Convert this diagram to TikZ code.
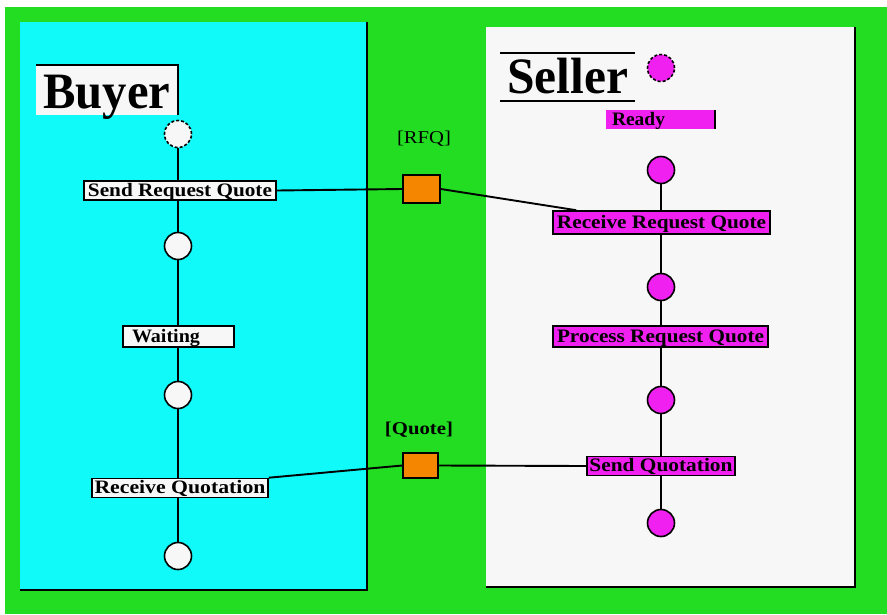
\documentclass[tikz,border=0pt]{standalone}
\usepackage{fontspec}
\setmainfont{Liberation Serif}
\usepackage{graphicx}
\usetikzlibrary{calc,backgrounds}

\definecolor{pagegreen}{RGB}{34,221,34}
\definecolor{buyercyan}{RGB}{16,250,250}
\definecolor{paperwhite}{RGB}{247,247,247}
\definecolor{statemag}{RGB}{240,32,240}
\definecolor{msgorange}{RGB}{245,135,0}

% stretch a text horizontally to a given width (in pt), keeping its height
\newcommand\fitw[2]{\resizebox{#1pt}{\height}{#2}}
\newcommand\actfont{\fontsize{19}{19}\selectfont\bfseries}
\newcommand\headfont{\fontsize{51}{51}\selectfont\bfseries}
\newcommand\msgfont{\fontsize{18}{18}\selectfont}

\pgfdeclarelayer{lanes}
\pgfsetlayers{lanes,background,main}

\begin{document}
\begin{tikzpicture}[x=1pt,y=-1pt,
  state/.style={circle, draw=black, line width=1.6pt, minimum size=27pt, inner sep=0pt},
  bstate/.style={state, fill=paperwhite},
  sstate/.style={state, fill=statemag},
  initdash/.style={dash pattern=on 3pt off 2pt},
  act/.style={draw=black, line width=1.6pt, inner sep=0pt, text height=15pt, text depth=4pt, font=\actfont},
  msg/.style={draw=black, fill=msgorange, line width=1.6pt, inner sep=0pt},
  wire/.style={line width=1.9pt, black},
  border/.style={line width=1.9pt, black}]

\useasboundingbox (0,0) rectangle (887,614);

% swimlanes
\begin{pgfonlayer}{lanes}
  \fill[white] (0,0) rectangle (887,614);
  \fill[pagegreen] (5,7) rectangle (887,614);
  \fill[buyercyan] (20,22) rectangle (367,590);
  \draw[border] (367,22) -- (367,590) -- (20,590);
  \fill[paperwhite] (486,27) rectangle (855,587);
  \draw[border] (855,27) -- (855,587) -- (486,587);
\end{pgfonlayer}

% lane headers
\node[fill=paperwhite, inner sep=0pt, minimum width=142pt, text height=43pt, text depth=7pt, font=\headfont]
  (buyerhdr) at (107,90) {\fitw{127}{Buyer}};
\draw[border] (buyerhdr.south east) -- (buyerhdr.north east) -- (buyerhdr.north west);
\node[inner sep=0pt, minimum width=135pt, text height=40pt, text depth=8pt, font=\headfont]
  (sellerhdr) at (567.5,77) {\fitw{121}{Seller}};
\draw[border] (sellerhdr.north west) -- (sellerhdr.north east);
\draw[border] (sellerhdr.south west) -- (sellerhdr.south east);

% buyer states
\node[bstate, initdash] (b0) at (178,134) {};
\node[bstate] (b1) at (178,246) {};
\node[bstate] (b2) at (178,395) {};
\node[bstate] (b3) at (178,556) {};

% seller states
\node[sstate, initdash] (s0) at (661,68) {};
\node[sstate] (s1) at (661,170) {};
\node[sstate] (s2) at (661,287) {};
\node[sstate] (s3) at (661,400) {};
\node[sstate] (s4) at (661,523) {};

% buyer activities
\node[act, fill=paperwhite, minimum width=192pt] (srq) at (180,190.5) {\fitw{184}{Send Request Quote}};
\node[act, fill=paperwhite, minimum width=111pt, minimum height=21pt] (wait) at (178.5,336.5)
  {\makebox[109pt][l]{\hspace{8pt}\fitw{68}{Waiting}}};
\node[act, fill=paperwhite, minimum width=176pt] (rq) at (180,488) {\fitw{171}{Receive Quotation}};

% seller activities
\node[inner sep=0pt, fill=statemag, minimum width=109pt, text height=15pt, text depth=4pt, font=\actfont]
  (ready) at (660.5,119.5) {\makebox[109pt][l]{\hspace{6pt}\fitw{53}{Ready}}};
\draw[border] (ready.north east) -- (ready.south east);
\node[act, fill=statemag, minimum width=217pt, minimum height=23pt] (rrq) at (661.5,222.5) {\fitw{209}{Receive Request Quote}};
\node[act, fill=statemag, minimum width=215pt, minimum height=21pt] (prq) at (660.5,336.5) {\fitw{207}{Process Request Quote}};
\node[act, fill=statemag, minimum width=148pt] (sq) at (661,466) {\fitw{143}{Send Quotation}};

% message objects
\node[msg, minimum width=37pt, minimum height=28pt] (rfq) at (421.5,189) {};
\node[msg, minimum width=35pt, minimum height=25pt] (quote) at (420.5,465.5) {};
\node[anchor=base, inner sep=0pt, font=\msgfont] (rfqlbl) at (424,143) {\fitw{54}{[RFQ]}};
\node[anchor=base, inner sep=0pt, font=\msgfont\bfseries] (quotelbl) at (419,434) {\fitw{68}{[Quote]}};

% flows
\begin{pgfonlayer}{background}
  \draw[wire] (b0) -- (b1) -- (b2) -- (b3);
  \draw[wire] (s1) -- (s2) -- (s3) -- (s4);
  \draw[wire] (srq.east) -- (rfq.west);
  \draw[wire] (rfq.east) -- ($(rrq.north west)+(24,0)$);
  \draw[wire] (rq.north east) -- (quote.west);
  \draw[wire] (quote.east) -- (sq.west);
\end{pgfonlayer}
\end{tikzpicture}
\end{document}
